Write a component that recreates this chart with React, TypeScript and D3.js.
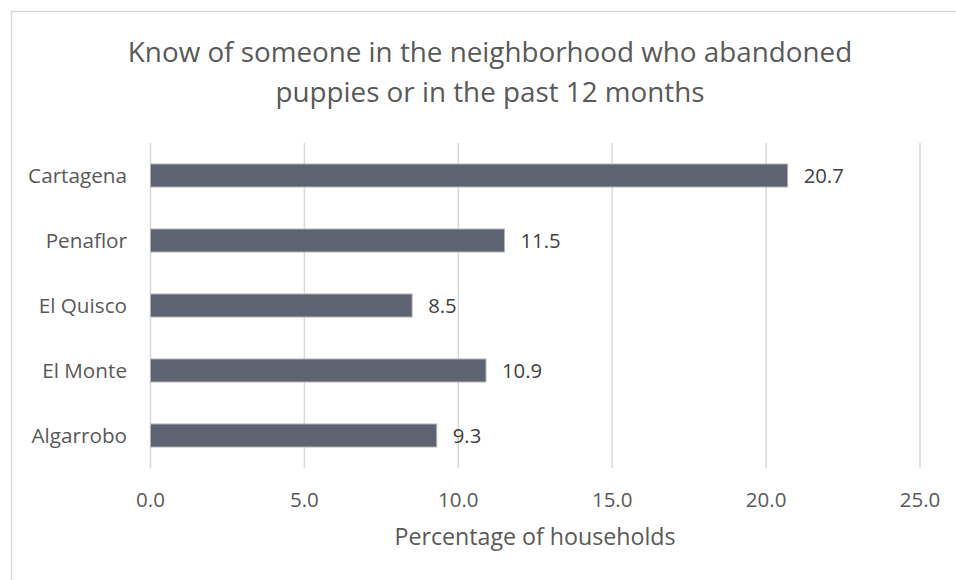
import React from "react";
import * as d3 from "d3";

const categories = ["Cartagena", "Penaflor", "El Quisco", "El Monte", "Algarrobo"];
const values = [20.7, 11.5, 8.5, 10.9, 9.3];
const xTicks = [0, 5, 10, 15, 20, 25];
const titleLines = ["Know of someone in the neighborhood who abandoned", "puppies or in the past 12 months"];
const xAxisTitle = "Percentage of households";

const W = 956;
const H = 580;
const FONT = "'Open Sans', 'Noto Sans', sans-serif";

export default function App() {
  const x = d3.scaleLinear().domain([0, 25]).range([150.5, 920]);
  const y = d3
    .scaleBand<string>()
    .domain(categories)
    .range([143, 468])
    .paddingInner(0.646)
    .paddingOuter(0.323);
  const fmt = d3.format(".1f");
  const bw = y.bandwidth();

  return (
    <svg
      width={W}
      height={H}
      style={{ position: "absolute", left: 0, top: 0, background: "#fff" }}
      fontFamily={FONT}
    >
      <rect x={0} y={0} width={W} height={H} fill="#fff" />
      <rect x={11.5} y={11.5} width={W + 10} height={H + 10} fill="none" stroke="#d9d9d9" strokeWidth={1.5} />
      {titleLines.map((t, i) => (
        <text key={i} x={490} y={62} textAnchor="middle" fontSize={27.8} fill="#595959" dy={i * 40}>
          {t}
        </text>
      ))}
      {xTicks.map((t) => (
        <g key={t}>
          <line x1={x(t)} x2={x(t)} y1={143} y2={468} stroke="#d9d9d9" strokeWidth={1.5} />
          <text x={x(t)} y={507} textAnchor="middle" fontSize={20.5} fill="#595959">
            {fmt(t)}
          </text>
        </g>
      ))}
      {categories.map((c, i) => {
        const yy = y(c)!;
        return (
          <g key={c}>
            <rect
              x={x(0)}
              y={yy}
              width={x(values[i]) - x(0)}
              height={bw}
              fill="#5f6271"
              stroke="#b3b5bc"
              strokeWidth={1}
            />
            <text x={127} y={yy + bw / 2} dy="0.36em" textAnchor="end" fontSize={20.7} fill="#595959">
              {c}
            </text>
            <text x={x(values[i]) + 16} y={yy + bw / 2} dy="0.36em" textAnchor="start" fontSize={20.3} fill="#404040">
              {fmt(values[i])}
            </text>
          </g>
        );
      })}
      <text x={535} y={545} textAnchor="middle" fontSize={23.2} fill="#595959">
        {xAxisTitle}
      </text>
    </svg>
  );
}
